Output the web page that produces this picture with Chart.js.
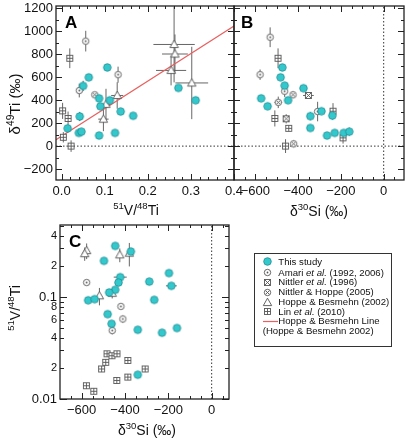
<!DOCTYPE html>
<html><head><meta charset="utf-8">
<script src="https://cdn.jsdelivr.net/npm/chart.js@4.4.1/dist/chart.umd.min.js"></script>
<style>
html,body{margin:0;padding:0;background:#fff;}
#wrap{position:relative;width:410px;height:440px;overflow:hidden;background:#fff;}
canvas.full{position:absolute;left:0;top:0;}
#legend{position:absolute;left:254px;top:253px;width:138px;height:94px;border:1px solid #333;box-sizing:border-box;font-family:'Liberation Sans',Arial,sans-serif;font-size:9.6px;color:#111;}
.row{position:absolute;white-space:nowrap;line-height:10px;height:10px;}
.ico{position:absolute;}
</style></head><body>
<div id="wrap">
<canvas id="cA" class="full" width="410" height="440"></canvas>
<canvas id="cB" class="full" width="410" height="440"></canvas>
<canvas id="cC" class="full" width="410" height="440"></canvas>
<div id="legend"></div>
</div>
<script>
// ---------- DATA ----------
// Panel A : 51V/48Ti (x) vs delta49Ti (y)
const studyAX=[0.014,0.042,0.040,0.046,0.050,0.063,0.106,0.087,0.090,0.087,0.112,0.124,0.137,0.166,0.271,0.311];
const studyAY=[155,258,115,126,524,599,685,416,347,92,399,115,301,264,507,399];
const studyAYErr=[0,40,0,0,45,0,0,0,0,0,0,0,0,0,0,0];
const amariAX=[0.056,0.041,0.131];
const amariAY=[914,484,622];
const amariAYErr=[90,60,70];
const nh05AX=[0.077];
const nh05AY=[447];
const hbAX=[0.261,0.263,0.254,0.302,0.129,0.103,0.097];
const hbAY=[885,802,659,550,441,364,235];
const hbAXErr=[0.048,0.030,0.035,0.038,0.014,0.012,0.012];
const hbAYErr=[330,170,130,315,115,135,105];
const linAX=[0.019,0.0023,0.015,0.004,0.022];
const linAY=[765,307,241,77,0];
const linAYErr=[86,70,60,45,50];
const hbLineX=[-0.013,0.4];
const hbLineY=[56,1045];

// Panel B : delta30Si (x) vs delta49Ti (y)
const studyBX=[-474,-482,-463,-573,-543,-447,-375,-343,-343,-291,-240,-265,-229,-187,-161];
const studyBY=[685,599,527,416,347,399,504,261,158,304,266,92,115,115,126];
const studyBXErr=[0,0,0,15,0,15,15,0,0,0,0,0,0,0,0];
const studyBYErr=[0,0,0,0,0,0,0,35,0,0,35,0,0,0,35];
const amariBX=[-531,-578,-463,-309];
const amariBY=[948,622,478,301];
const amariBYErr=[86,45,50,85];
const nh05BX=[-493,-424,-421];
const nh05BY=[381,447,20];
const nh05BXErr=[18,0,0];
const nh05BYErr=[50,30,30];
const nit96BX=[-456,-352];
const nit96BY=[238,441];
const nit96BXErr=[0,25];
const nit96BYErr=[40,0];
const linBX=[-494,-509,-444,-459,-237,-190];
const linBY=[765,241,155,0,304,72];
const linBXErr=[0,0,0,15,0,0];
const linBYErr=[86,70,0,60,70,50];

// Panel C : delta30Si (x) vs 51V/48Ti (y, log)
const studyCX=[-445,-497,-373,-422,-430,-445,-473,-570,-540,-288,-197,-186,-265,-480,-462,-341,-229,-160,-341];
const studyCY=[0.318,0.227,0.28,0.157,0.139,0.118,0.111,0.093,0.0955,0.142,0.172,0.129,0.094,0.068,0.0547,0.0478,0.0447,0.0497,0.0173];
const studyCXErr=[0,0,15,30,0,0,0,0,0,0,0,25,12,0,0,0,0,0,0];
const hbCX=[-577,-586,-424,-380,-518,-459];
const hbCY=[0.286,0.267,0.26,0.27,0.103,0.109];
const hbCYErr=[0.05,0.04,0.04,0.07,0.02,0.012];
const amariCX=[-577,-419,-410,-459];
const amariCY=[0.139,0.081,0.061,0.047];
const amariCYErr=[0,0,0.005,0.004];
const linCX=[-483,-460,-437,-489,-508,-387,-307,-438,-387,-578,-544];
const linCY=[0.0278,0.0266,0.0278,0.0229,0.0197,0.0239,0.0197,0.0152,0.0164,0.0135,0.0119];

// ticks
const aXMajor=[0,0.1,0.2,0.3,0.4];
const aXMinor=[0.02,0.04,0.06,0.08,0.12,0.14,0.16,0.18,0.22,0.24,0.26,0.28,0.32,0.34,0.36,0.38];
const dYMajor=[-200,0,200,400,600,800,1000,1200];
const dYMinor=[-100,100,300,500,700,900,1100];
const siMajor=[-600,-400,-200,0];
const siMinor=[-650,-550,-500,-450,-350,-300,-250,-150,-100,-50,50];
const cYDecade=[0.01,0.1];
const cYLabeled=[0.01,0.02,0.04,0.06,0.08,0.1,0.2,0.4];
const cYLabels=['0.01','2','4','6','8','0.1','2','4'];
const cYMinor=[0.02,0.03,0.04,0.05,0.06,0.07,0.08,0.09,0.2,0.3,0.4,0.5];

// ---------- helpers ----------
const FONT="'Liberation Sans', Arial, sans-serif";
Chart.defaults.font.family=FONT;
Chart.defaults.color='#111';

function makeIcon(kind){
  const s=11,c=document.createElement('canvas');c.width=s;c.height=s;
  const g=c.getContext('2d');const m=5.5;
  g.lineWidth=0.9;g.strokeStyle='#555';g.fillStyle='#fff';
  if(kind==='study'){g.beginPath();g.arc(m,m,3.8,0,7);g.fillStyle='#33c8cc';g.fill();g.strokeStyle='#1f8c92';g.lineWidth=0.8;g.stroke();}
  else if(kind==='amari'){g.beginPath();g.arc(m,m,3.2,0,7);g.fill();g.stroke();g.beginPath();g.arc(m,m,0.9,0,7);g.fillStyle='#555';g.fill();}
  else if(kind==='nh05'){g.beginPath();g.arc(m,m,3.2,0,7);g.fill();g.stroke();g.beginPath();g.moveTo(m-1.8,m-1.8);g.lineTo(m+1.8,m+1.8);g.moveTo(m+1.8,m-1.8);g.lineTo(m-1.8,m+1.8);g.stroke();}
  else if(kind==='nit96'){g.fillRect(2.5,2.5,6,6);g.strokeRect(2.5,2.5,6,6);g.beginPath();g.moveTo(2.5,2.5);g.lineTo(8.5,8.5);g.moveTo(8.5,2.5);g.lineTo(2.5,8.5);g.stroke();}
  else if(kind==='lin'){g.fillRect(2.5,2.5,6,6);g.strokeRect(2.5,2.5,6,6);g.beginPath();g.moveTo(5.5,2.5);g.lineTo(5.5,8.5);g.moveTo(2.5,5.5);g.lineTo(8.5,5.5);g.stroke();}
  else if(kind==='hb'){g.beginPath();g.moveTo(m,1.2);g.lineTo(m+4.2,8.6);g.lineTo(m-4.2,8.6);g.closePath();g.fill();g.stroke();}
  return c;
}
const IC={study:makeIcon('study'),amari:makeIcon('amari'),nh05:makeIcon('nh05'),nit96:makeIcon('nit96'),lin:makeIcon('lin'),hb:makeIcon('hb')};

function pts(xs,ys){return xs.map((x,i)=>({x:x,y:ys[i]}));}
function sc(label,xs,ys,icon,xErr,yErr){return {label,data:pts(xs,ys),pointStyle:icon,pointRadius:5,pointHoverRadius:5,showLine:false,xErr,yErr};}
function ln(xs,ys,color,w,dash){return {label:'line',data:pts(xs,ys),showLine:true,borderColor:color,borderWidth:w,borderDash:dash||[],pointRadius:0,fill:false};}
const minusFmt=v=>v<0?'\u2212'+(-v):String(v);
function zeroPad(s){s.paddingLeft=0;s.paddingRight=0;s.paddingTop=0;s.paddingBottom=0;}
function scale(type,pos,min,max,ticksArr,fmt,size,display,fontFn){
  return {type,position:pos,min,max,display,
    afterBuildTicks:s=>{s.ticks=ticksArr.map(v=>({value:v}));},
    afterFit:s=>{if(pos==='bottom')s.height=size;else s.width=size;zeroPad(s);},
    grid:{display:false,drawTicks:false},border:{display:false},title:{display:false},
    ticks:{padding:pos==='bottom'?4:3,maxRotation:0,minRotation:0,autoSkip:false,color:'#111',font:fontFn||{size:13},callback:fmt}};
}

const errPlugin={id:'errbars',beforeDatasetsDraw(chart){
  const {ctx,chartArea:a,scales:{x,y}}=chart;
  ctx.save();ctx.beginPath();ctx.rect(a.left,a.top,a.right-a.left,a.bottom-a.top);ctx.clip();
  ctx.strokeStyle='#555';ctx.lineWidth=0.9;ctx.beginPath();
  chart.data.datasets.forEach(ds=>{
    ds.data.forEach((p,i)=>{
      const px=x.getPixelForValue(p.x),py=y.getPixelForValue(p.y);
      const ye=ds.yErr?ds.yErr[i]:0,xe=ds.xErr?ds.xErr[i]:0;
      if(ye){ctx.moveTo(px,y.getPixelForValue(p.y+ye));ctx.lineTo(px,y.getPixelForValue(p.y-ye));}
      if(xe){ctx.moveTo(x.getPixelForValue(p.x-xe),py);ctx.lineTo(x.getPixelForValue(p.x+xe),py);}
    });
  });
  ctx.stroke();ctx.restore();
}};

function rich(ctx,parts,size){ // returns width; draws from current origin at baseline 0
  let w=0;parts.forEach(p=>{ctx.font=(p.s?size*0.68:size)+'px '+FONT;w+=ctx.measureText(p.t).width;});return w;
}
function drawRich(ctx,parts,size,cx,cy,rot){
  ctx.save();ctx.translate(cx,cy);if(rot)ctx.rotate(-Math.PI/2);
  ctx.fillStyle='#111';ctx.textBaseline='alphabetic';ctx.textAlign='left';
  const w=rich(ctx,parts,size);let x=-w/2;
  parts.forEach(p=>{const fs=p.s?size*0.68:size;ctx.font=fs+'px '+FONT;ctx.fillText(p.t,x,p.s?-size*0.42:0);x+=ctx.measureText(p.t).width;});
  ctx.restore();
}
const framePlugin={id:'frame',afterDatasetsDraw(chart,args,o){
  const {ctx,chartArea:a,scales:{x,y}}=chart;
  ctx.save();ctx.strokeStyle='#222';ctx.lineWidth=1;ctx.beginPath();
  o.xt.forEach(([v,L])=>{const px=Math.round(x.getPixelForValue(v))+0.5;ctx.moveTo(px,a.bottom);ctx.lineTo(px,a.bottom-L);ctx.moveTo(px,a.top);ctx.lineTo(px,a.top+L);});
  o.yt.forEach(([v,L])=>{const py=Math.round(y.getPixelForValue(v))+0.5;ctx.moveTo(a.left,py);ctx.lineTo(a.left+L,py);ctx.moveTo(a.right,py);ctx.lineTo(a.right-L,py);});
  ctx.stroke();
  ctx.lineWidth=1.3;ctx.strokeRect(a.left,a.top,a.right-a.left,a.bottom-a.top);
  ctx.fillStyle='#000';ctx.font='bold 17px '+FONT;ctx.textAlign='left';ctx.textBaseline='alphabetic';
  ctx.fillText(o.letter,a.left+o.lx,a.top+o.ly);
  (o.titles||[]).forEach(t=>drawRich(ctx,t.parts,t.size,t.x,t.y,t.rot));
  ctx.restore();
}};
const tk=(arr,L)=>arr.map(v=>[v,L]);
const vtTitle=[{t:'51',s:1},{t:'V/'},{t:'48',s:1},{t:'Ti'}];
const siTitle=[{t:'\u03b4'},{t:'30',s:1},{t:'Si (\u2030)'}];
const tiTitle=[{t:'\u03b4'},{t:'49',s:1},{t:'Ti (\u2030)'}];

const common={responsive:false,animation:false,events:[],plugins:{legend:{display:false},tooltip:{enabled:false}}};

// ---------- Chart A ----------
new Chart(document.getElementById('cA'),{type:'scatter',
  data:{datasets:[
    sc('This study',studyAX,studyAY,IC.study,null,studyAYErr),
    sc('Amari',amariAX,amariAY,IC.amari,null,amariAYErr),
    sc('Nittler & Hoppe',nh05AX,nh05AY,IC.nh05,null,null),
    sc('Lin',linAX,linAY,IC.lin,null,linAYErr),
    sc('Hoppe & Besmehn',hbAX,hbAY,IC.hb,hbAXErr,hbAYErr),
    ln(hbLineX,hbLineY,'#e8605f',1.2),
    ln([-0.013,0.4],[0,0],'#333',1,[1.5,2])
  ]},
  options:{...common,layout:{padding:{left:0,right:176,top:4,bottom:230}},
    scales:{x:scale('linear','bottom',-0.013,0.4,aXMajor,v=>v.toFixed(1),30,true),
            y:scale('linear','left',-295,1220,dYMajor,minusFmt,56,true)},
    plugins:{...common.plugins,frame:{xt:tk(aXMajor,6).concat(tk(aXMinor,3)),yt:tk(dYMajor,6).concat(tk(dYMinor,3)),letter:'A',lx:9,ly:22,
      titles:[{parts:vtTitle,size:14,x:136,y:215},{parts:tiTitle,size:15,x:20,y:104,rot:true}]}}},
  plugins:[errPlugin,framePlugin]});

// ---------- Chart B ----------
new Chart(document.getElementById('cB'),{type:'scatter',
  data:{datasets:[
    sc('This study',studyBX,studyBY,IC.study,studyBXErr,studyBYErr),
    sc('Amari',amariBX,amariBY,IC.amari,null,amariBYErr),
    sc('Nittler & Hoppe',nh05BX,nh05BY,IC.nh05,nh05BXErr,nh05BYErr),
    sc('Nittler 1996',nit96BX,nit96BY,IC.nit96,nit96BXErr,nit96BYErr),
    sc('Lin',linBX,linBY,IC.lin,linBXErr,linBYErr),
    ln([-700,95],[0,0],'#333',1,[1.5,2]),
    ln([0,0],[-295,1220],'#333',1,[1.5,2])
  ]},
  options:{...common,layout:{padding:{left:234,right:2,top:4,bottom:230}},
    scales:{x:scale('linear','bottom',-700,95,siMajor,minusFmt,30,true),
            y:scale('linear','left',-295,1220,dYMajor,minusFmt,0,false)},
    plugins:{...common.plugins,frame:{xt:tk(siMajor,6).concat(tk(siMinor,3)),yt:tk(dYMajor,6).concat(tk(dYMinor,3)),letter:'B',lx:7,ly:22,
      titles:[{parts:siTitle,size:14,x:319,y:216}]}}},
  plugins:[errPlugin,framePlugin]});

// ---------- Chart C ----------
new Chart(document.getElementById('cC'),{type:'scatter',
  data:{datasets:[
    sc('This study',studyCX,studyCY,IC.study,studyCXErr,null),
    sc('Amari',amariCX,amariCY,IC.amari,null,amariCYErr),
    sc('Lin',linCX,linCY,IC.lin,null,null),
    sc('Hoppe & Besmehn',hbCX,hbCY,IC.hb,null,hbCYErr),
    ln([0,0],[0.01,0.51],'#333',1,[1.5,2])
  ]},
  options:{...common,layout:{padding:{left:0,right:181,top:225,bottom:11}},
    scales:{x:scale('linear','bottom',-700,80,siMajor,minusFmt,30,true),
            y:scale('logarithmic','left',0.01,0.51,cYLabeled,(v)=>{const i=cYLabeled.indexOf(v);return i>=0?cYLabels[i]:'';},60,true,
               (c)=>({size:(c.tick&&(c.tick.value===0.1||c.tick.value===0.01))?13:11}))},
    plugins:{...common.plugins,frame:{xt:tk(siMajor,6).concat(tk(siMinor,3)),yt:tk(cYDecade,7).concat(tk(cYMinor,4)),letter:'C',lx:9,ly:22,
      titles:[{parts:siTitle,size:14,x:147,y:435},{parts:vtTitle,size:14,x:20,y:308,rot:true}]}}},
  plugins:[errPlugin,framePlugin]});

// ---------- Legend (HTML) ----------
const legendRows=[
  {icon:'study',html:'This study'},
  {icon:'amari',html:'Amari <i>et al.</i> (1992, 2006)'},
  {icon:'nit96',html:'Nittler <i>et al.</i> (1996)'},
  {icon:'nh05',html:'Nittler &amp; Hoppe (2005)'},
  {icon:'hb',html:'Hoppe &amp; Besmehn (2002)'},
  {icon:'lin',html:'Lin <i>et al.</i> (2010)'},
  {icon:'line',html:'Hoppe &amp; Besmehn Line'},
  {icon:null,html:'(Hoppe &amp; Besmehn 2002)'}
];
const rowY=[8.7,19.7,29.3,39.3,49.3,58.7,68,77.7];
const L=document.getElementById('legend');
legendRows.forEach((r,i)=>{
  const d=document.createElement('div');d.className='row';d.innerHTML=r.html;
  d.style.top=(rowY[i]-5-1)+'px';d.style.left=(r.icon?23.3:7.7)+'px';L.appendChild(d);
  if(r.icon==='line'){const c=document.createElement('canvas');c.width=15;c.height=3;c.className='ico';c.style.left='8px';c.style.top=(rowY[i]-2.5)+'px';
    const g=c.getContext('2d');g.strokeStyle='#e8605f';g.lineWidth=1.2;g.beginPath();g.moveTo(0,1.5);g.lineTo(15,1.5);g.stroke();L.appendChild(c);}
  else if(r.icon){const c=makeIcon(r.icon);c.className='ico';c.style.left=(12.7-5.5)+'px';c.style.top=(rowY[i]-5.5-1)+'px';L.appendChild(c);}
});
</script>
</body></html>
